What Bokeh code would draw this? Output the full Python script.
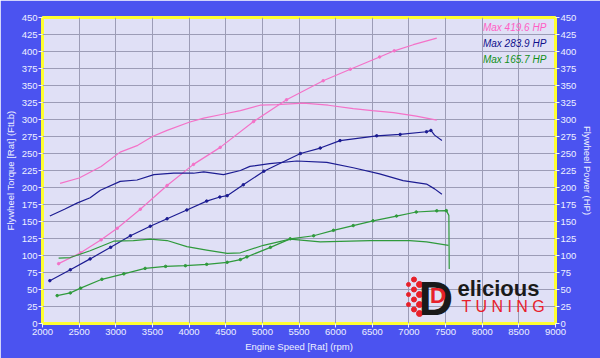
from bokeh.plotting import figure
from bokeh.models import Range1d, LinearAxis, FixedTicker, Label
from bokeh.embed import file_html
from bokeh.resources import INLINE

# ---------------- data ----------------
x_ticks = [2000, 2500, 3000, 3500, 4000, 4500, 5000, 5500, 6000, 6500, 7000, 7500, 8000, 8500, 9000]
y_ticks = [0, 25, 50, 75, 100, 125, 150, 175, 200, 225, 250, 275, 300, 325, 350, 375, 400, 425, 450]

# Run 1 (pink, Max 419.6 HP)
pink_tq_rpm = [2240, 2500, 2800, 3060, 3300, 3500, 3700, 4000, 4200, 4425, 4700, 4970, 5200, 5560, 5900, 6240, 6500, 6790, 7100, 7380]
pink_tq     = [206, 214, 231, 252, 262, 275, 284, 296, 302, 307, 313, 321, 322, 324, 321, 316, 313, 310, 305, 299]
pink_hp_rpm = [2220, 2520, 2800, 3020, 3335, 3700, 4060, 4425, 4880, 5330, 5830, 6200, 6600, 6800, 7060, 7380]
pink_hp     = [88, 104, 123, 140, 168, 203, 234, 259, 297, 329, 357, 374, 392, 401, 410, 419.6]

# Run 2 (dark blue, Max 283.9 HP)
blue_tq_rpm = [2100, 2300, 2470, 2650, 2790, 3060, 3290, 3520, 3790, 4060, 4200, 4470, 4700, 4830, 5100, 5470, 5880, 6240, 6600, 6920, 7240, 7350, 7450]
blue_tq     = [158, 168, 177, 185, 196, 209, 211, 219, 221, 221, 223, 219, 225, 231, 235, 239, 237, 229, 220, 210, 205, 198, 190]
blue_hp_rpm = [2100, 2380, 2650, 2930, 3200, 3470, 3700, 3970, 4240, 4420, 4520, 4740, 5020, 5520, 5790, 6060, 6560, 6880, 7240, 7300, 7350, 7450]
blue_hp     = [63, 79, 95, 112, 129, 143, 154, 167, 180, 186, 188, 204, 224, 250, 258, 269, 276, 278, 282, 283.9, 277, 269]

# Run 3 (green, Max 165.7 HP)
green_tq_rpm = [2220, 2380, 2650, 2970, 3240, 3470, 3700, 3970, 4240, 4520, 4700, 5015, 5380, 5790, 6470, 7010, 7240, 7540]
green_tq     = [96, 97, 107, 121, 122, 124, 122, 113, 108, 103, 104, 115, 124, 120, 122, 122, 120, 115]
green_hp_rpm = [2200, 2380, 2520, 2810, 3110, 3400, 3680, 3950, 4240, 4520, 4700, 4790, 5110, 5380, 5700, 5970, 6240, 6510, 6830, 7100, 7380, 7510, 7545, 7550]
green_hp     = [41, 45, 52, 65, 73, 81, 84, 85, 87, 90, 94, 98, 112, 124.5, 129, 137, 144, 151, 158, 164, 165.7, 166, 159, 80]

legend_texts = ["Max 419.6 HP", "Max 283.9 HP", "Max 165.7 HP"]

# ---------------- style ----------------
PINK = "#f472c8"
BLUE = "#1c1c92"
GREEN = "#2f9a3c"
OUTER = "#4b53f0"
INNER = "#e0e0f6"
GRID = "#9c9cb6"
TXT = "#eef0ff"
FONT = "Liberation Sans"

p = figure(width=600, height=358, x_range=Range1d(2000, 9000), y_range=Range1d(0, 450),
           output_backend="svg", toolbar_location=None,
           min_border_left=42, min_border_right=45, min_border_top=17, min_border_bottom=35,
           background_fill_color=INNER, border_fill_color=OUTER,
           outline_line_color="#ffff30", outline_line_width=3)
p.extra_y_ranges = {"hp": Range1d(0, 450)}
p.add_layout(LinearAxis(y_range_name="hp", axis_label="Flywheel Power (HP)"), "right")

p.xaxis.axis_label = "Engine Speed [Rat] (rpm)"
p.yaxis[0].axis_label = "Flywheel Torque [Rat] (FtLb)"

for ax in p.xaxis:
    ax.ticker = FixedTicker(ticks=x_ticks)
for ax in p.yaxis:
    ax.ticker = FixedTicker(ticks=y_ticks)

for ax in list(p.xaxis) + list(p.yaxis):
    ax.axis_line_color = None
    ax.major_tick_line_color = TXT
    ax.major_tick_out = 4
    ax.major_tick_in = 0
    ax.minor_tick_line_color = None
    ax.major_label_text_color = TXT
    ax.major_label_text_font = FONT
    ax.major_label_text_font_size = "9.5px"
    ax.major_label_standoff = 1
    ax.axis_label_text_color = TXT
    ax.axis_label_text_font = FONT
    ax.axis_label_text_font_size = "9.5px"
    ax.axis_label_text_font_style = "normal"
    ax.axis_label_standoff = 3

p.xgrid.ticker = FixedTicker(ticks=x_ticks)
p.ygrid.ticker = FixedTicker(ticks=y_ticks)
p.xgrid.grid_line_color = GRID
p.ygrid.grid_line_color = GRID

# ---------------- curves ----------------
series = [
    (pink_tq_rpm, pink_tq, pink_hp_rpm, pink_hp, PINK),
    (blue_tq_rpm, blue_tq, blue_hp_rpm, blue_hp, BLUE),
    (green_tq_rpm, green_tq, green_hp_rpm, green_hp, GREEN),
]
for trpm, tq, hrpm, hp, col in series:
    p.line(trpm, tq, line_color=col, line_width=1.2)
    p.line(hrpm, hp, line_color=col, line_width=1.2, y_range_name="hp")
    p.scatter(hrpm[:-2], hp[:-2], size=2.5, color=col, y_range_name="hp")

# ---------------- legend texts ----------------
leg_cols = ["#ff5ec4", "#10108c", "#109018"]
leg_y = [435, 412, 388]
for t, c, yv in zip(legend_texts, leg_cols, leg_y):
    p.add_layout(Label(x=8010, y=yv, text=t, text_color=c, text_font=FONT,
                       text_font_size="10px", text_font_style="italic",
                       text_align="left", text_baseline="middle"))

# ---------------- logo ----------------
RED = "#e8202a"
logo_dot_x = [6994, 6994, 6994, 7069, 7069, 7069, 7069, 7144, 7144, 7144, 7144]
logo_dot_y = [57.4, 42.6, 27.9, 64.7, 50, 35.3, 20.6, 57.4, 42.6, 27.9, 14.7]
logo_dot_s = [4, 4, 4, 5, 5, 5, 5, 6, 6, 6, 6]
p.scatter(logo_dot_x, logo_dot_y, size=logo_dot_s, color=RED)
p.add_layout(Label(x=7130, y=36.8, text="D", text_color="#1a1a1a", text_font=FONT,
                   text_font_size="48px", text_font_style="bold", text_align="left",
                   text_baseline="alphabetic"))
p.add_layout(Label(x=7395, y=41, text="D", text_color=RED, text_font=FONT,
                   text_font_size="22px", text_font_style="bold", text_align="center",
                   text_baseline="alphabetic"))
p.add_layout(Label(x=7662, y=52, text="elicious", text_color="#1a1a1a", text_font=FONT,
                   text_font_size="22px", text_font_style="bold", text_align="left",
                   text_baseline="alphabetic"))
p.add_layout(Label(x=7717, y=24.6, text="T U N I N G", text_color=RED, text_font=FONT,
                   text_font_size="16px", text_align="left", text_baseline="alphabetic"))

open("out.html", "w").write(file_html(p, INLINE))
